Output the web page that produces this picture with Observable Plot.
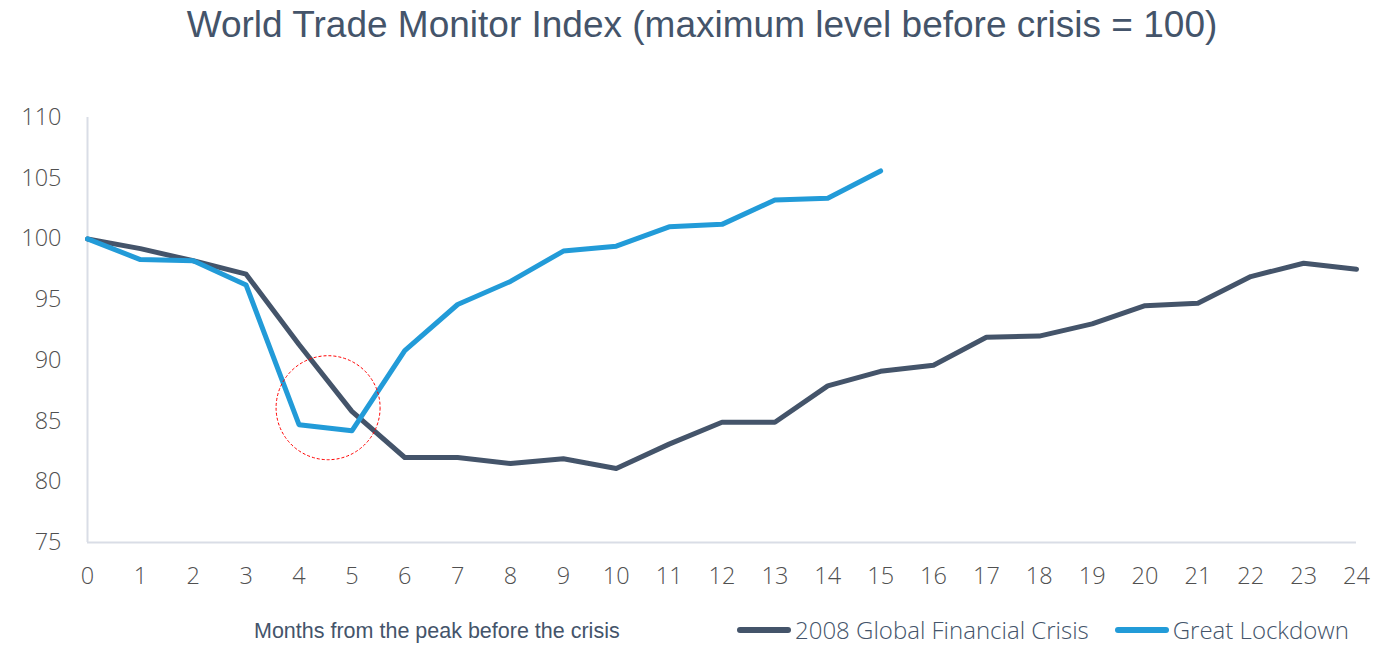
<!DOCTYPE html>
<html>
<head>
<meta charset="utf-8">
<script src="https://cdn.jsdelivr.net/npm/d3@7"></script>
<script src="https://cdn.jsdelivr.net/npm/@observablehq/plot@0.6"></script>
<style>
  html, body { margin: 0; padding: 0; background: #ffffff; }
  #wrap { position: relative; width: 1386px; height: 646px; overflow: hidden; background: #fff; }
  #title { position: absolute; left: 0; top: 4px; width: 1404px; text-align: center;
           font-family: "Liberation Sans", Arial, sans-serif; font-size: 37px; color: #44546a; white-space: nowrap; }
  #xlabel { position: absolute; left: 254px; top: 619px; font-family: "Liberation Sans", Arial, sans-serif;
            font-size: 21.5px; color: #44546a; white-space: nowrap; }
  #legend { position: absolute; left: 737px; top: 613px; display: flex; align-items: center;
            font-family: "Open Sans", sans-serif; font-weight: 300; font-size: 24px; color: #44546a; white-space: nowrap; }
  .sw { display: inline-block; width: 54px; height: 6px; border-radius: 3px; margin-right: 4px; }
  .item { display: flex; align-items: center; margin-right: 26px; }
  #chart { position: absolute; left: 0; top: 0; }
</style>
</head>
<body>
<div id="wrap">
  <div id="chart"></div>
  <div id="title">World Trade Monitor Index (maximum level before crisis = 100)</div>
  <div id="xlabel">Months from the peak before the crisis</div>
  <div id="legend"></div>
</div>
<script>
// ---- data ----
const months = [0,1,2,3,4,5,6,7,8,9,10,11,12,13,14,15,16,17,18,19,20,21,22,23,24];
const yTicks = [75,80,85,90,95,100,105,110];
const seriesNames = ["2008 Global Financial Crisis", "Great Lockdown"];
const seriesColors = ["#44546a", "#229bd8"];
const gfc = [100, 99.2, 98.2, 97.1, 91.3, 85.8, 82.0, 82.0, 81.5, 81.9, 81.1, 83.1, 84.9, 84.9, 87.9, 89.1,
             89.6, 91.9, 92.0, 93.0, 94.5, 94.7, 96.9, 98.0, 97.5];
const lockdown = [100, 98.3, 98.2, 96.2, 84.7, 84.2, 90.8, 94.6, 96.5, 99.0, 99.4, 101.0, 101.2, 103.2, 103.35, 105.6];
const highlight = [{month: 4.55, value: 86.1}];

// ---- table ----
const rows = [];
gfc.forEach((v, i) => rows.push({month: months[i], value: v, series: seriesNames[0]}));
lockdown.forEach((v, i) => rows.push({month: months[i], value: v, series: seriesNames[1]}));

const chart = Plot.plot({
  width: 1386,
  height: 646,
  marginLeft: 87,
  marginRight: 30,
  marginTop: 117,
  marginBottom: 104,
  x: {domain: [0, 24], label: null},
  y: {domain: [75, 110], label: null},
  color: {domain: seriesNames, range: seriesColors},
  style: {fontFamily: "'Open Sans', sans-serif", fontWeight: 300, fontSize: "23.5px", color: "#505050", background: "transparent", overflow: "visible"},
  marks: [
    Plot.ruleX([0], {stroke: "#d9dde6", strokeWidth: 2}),
    Plot.ruleY([75], {stroke: "#d9dde6", strokeWidth: 2}),
    Plot.axisX({ticks: months, tickFormat: d => String(d), tickSize: 0, tickPadding: 25, label: null}),
    Plot.axisY({ticks: yTicks, tickFormat: d => String(d), tickSize: 0, tickPadding: 26, label: null}),
    Plot.line(rows, {x: "month", y: "value", z: "series", stroke: "series", strokeWidth: 5, strokeLinejoin: "round", strokeLinecap: "round"}),
    Plot.dot(highlight, {x: "month", y: "value", r: 52, stroke: "#ff0000", strokeWidth: 1, strokeDasharray: "3,2", fill: "none"})
  ]
});
document.getElementById("chart").appendChild(chart);

const legend = document.getElementById("legend");
seriesNames.forEach((name, i) => {
  const item = document.createElement("div");
  item.className = "item";
  const sw = document.createElement("span");
  sw.className = "sw";
  sw.style.background = seriesColors[i];
  const t = document.createElement("span");
  t.textContent = name;
  item.appendChild(sw);
  item.appendChild(t);
  legend.appendChild(item);
});
</script>
</body>
</html>
